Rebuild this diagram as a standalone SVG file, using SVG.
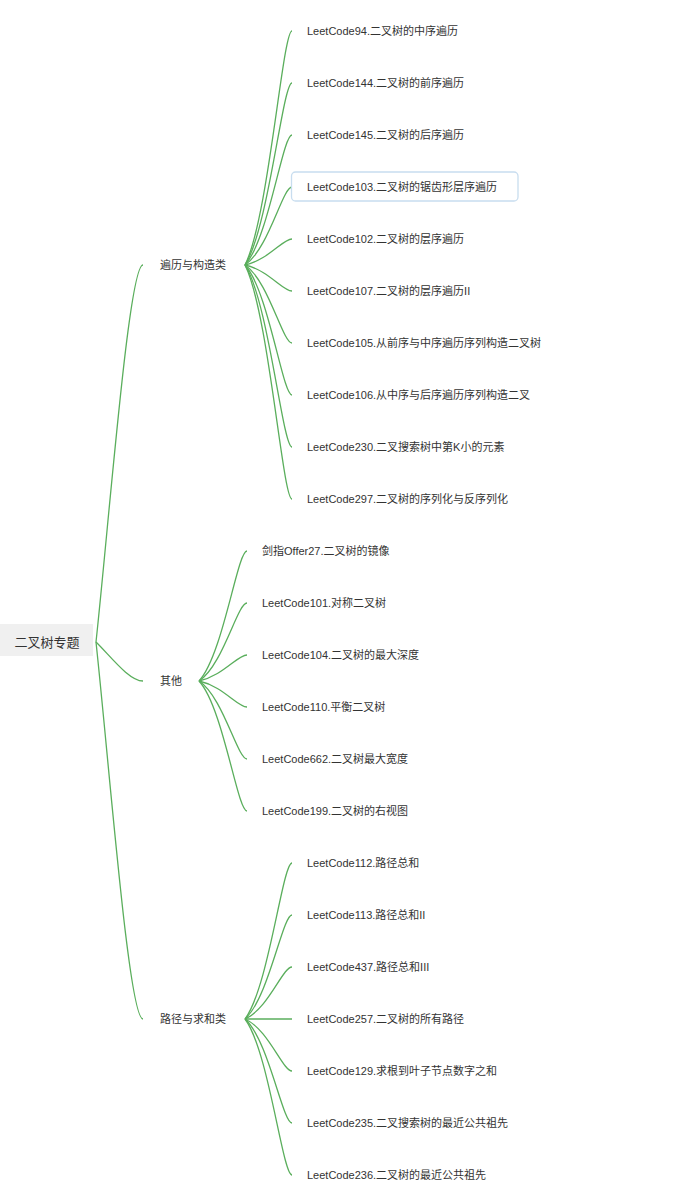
<svg xmlns="http://www.w3.org/2000/svg" width="677" height="1200" viewBox="0 0 677 1200">
<style>
text{font-family:"Liberation Sans","Noto Sans CJK SC",sans-serif;fill:#333;font-size:11px}
.root{font-size:13px;text-anchor:middle}
#connectors path{fill:none;stroke:#5aae5c;stroke-width:1.3}
</style>
<rect width="677" height="1200" fill="#fff"/>
<g id="connectors">
<path d="M96,642 C110.1,510.05 128.9,265 143,265"/>
<path d="M96,642 C110.1,655.65 128.9,681 143,681"/>
<path d="M96,642 C110.1,773.95 128.9,1019 143,1019"/>
<path d="M245,265 C268.5,218.2 282.6,31 292,31"/>
<path d="M245,265 C268.5,228.6 282.6,83 292,83"/>
<path d="M245,265 C268.5,239 282.6,135 292,135"/>
<path d="M245,265 C268.5,249.4 282.6,187 292,187"/>
<path d="M245,265 C268.5,259.8 282.6,239 292,239"/>
<path d="M245,265 C268.5,270.2 282.6,291 292,291"/>
<path d="M245,265 C268.5,280.6 282.6,343 292,343"/>
<path d="M245,265 C268.5,291 282.6,395 292,395"/>
<path d="M245,265 C268.5,301.4 282.6,447 292,447"/>
<path d="M245,265 C268.5,311.8 282.6,499 292,499"/>
<path d="M199,681 C223,655 237.4,551 247,551"/>
<path d="M199,681 C223,665.4 237.4,603 247,603"/>
<path d="M199,681 C223,675.8 237.4,655 247,655"/>
<path d="M199,681 C223,686.2 237.4,707 247,707"/>
<path d="M199,681 C223,696.6 237.4,759 247,759"/>
<path d="M199,681 C223,707 237.4,811 247,811"/>
<path d="M245,1019 C268.5,987.8 282.6,863 292,863"/>
<path d="M245,1019 C268.5,998.2 282.6,915 292,915"/>
<path d="M245,1019 C268.5,1008.6 282.6,967 292,967"/>
<path d="M245,1019 L292,1019"/>
<path d="M245,1019 C268.5,1029.4 282.6,1071 292,1071"/>
<path d="M245,1019 C268.5,1039.8 282.6,1123 292,1123"/>
<path d="M245,1019 C268.5,1050.2 282.6,1175 292,1175"/>
</g>
<g id="root"><rect x="0" y="624" width="93" height="32" fill="#f0f0f0"/><text class="root" x="47" y="646.5">二叉树专题</text></g>
<g id="b1"><text x="160" y="269">遍历与构造类</text></g>
<g id="b2"><text x="160" y="685">其他</text></g>
<g id="b3"><text x="160" y="1023">路径与求和类</text></g>
<g id="l94"><text x="307" y="35">LeetCode94.二叉树的中序遍历</text></g>
<g id="l144"><text x="307" y="87">LeetCode144.二叉树的前序遍历</text></g>
<g id="l145"><text x="307" y="139">LeetCode145.二叉树的后序遍历</text></g>
<g id="l103"><rect x="291.5" y="172" width="226.5" height="29" rx="4" fill="#fff" stroke="#c8ddef" stroke-width="1.3"/><text x="307" y="191">LeetCode103.二叉树的锯齿形层序遍历</text></g>
<g id="l102"><text x="307" y="243">LeetCode102.二叉树的层序遍历</text></g>
<g id="l107"><text x="307" y="295">LeetCode107.二叉树的层序遍历II</text></g>
<g id="l105"><text x="307" y="347">LeetCode105.从前序与中序遍历序列构造二叉树</text></g>
<g id="l106"><text x="307" y="399">LeetCode106.从中序与后序遍历序列构造二叉</text></g>
<g id="l230"><text x="307" y="451">LeetCode230.二叉搜索树中第K小的元素</text></g>
<g id="l297"><text x="307" y="503">LeetCode297.二叉树的序列化与反序列化</text></g>
<g id="o27"><text x="262" y="555">剑指Offer27.二叉树的镜像</text></g>
<g id="l101"><text x="262" y="607">LeetCode101.对称二叉树</text></g>
<g id="l104"><text x="262" y="659">LeetCode104.二叉树的最大深度</text></g>
<g id="l110"><text x="262" y="711">LeetCode110.平衡二叉树</text></g>
<g id="l662"><text x="262" y="763">LeetCode662.二叉树最大宽度</text></g>
<g id="l199"><text x="262" y="815">LeetCode199.二叉树的右视图</text></g>
<g id="l112"><text x="307" y="867">LeetCode112.路径总和</text></g>
<g id="l113"><text x="307" y="919">LeetCode113.路径总和II</text></g>
<g id="l437"><text x="307" y="971">LeetCode437.路径总和III</text></g>
<g id="l257"><text x="307" y="1023">LeetCode257.二叉树的所有路径</text></g>
<g id="l129"><text x="307" y="1075">LeetCode129.求根到叶子节点数字之和</text></g>
<g id="l235"><text x="307" y="1127">LeetCode235.二叉搜索树的最近公共祖先</text></g>
<g id="l236"><text x="307" y="1179">LeetCode236.二叉树的最近公共祖先</text></g>
</svg>
